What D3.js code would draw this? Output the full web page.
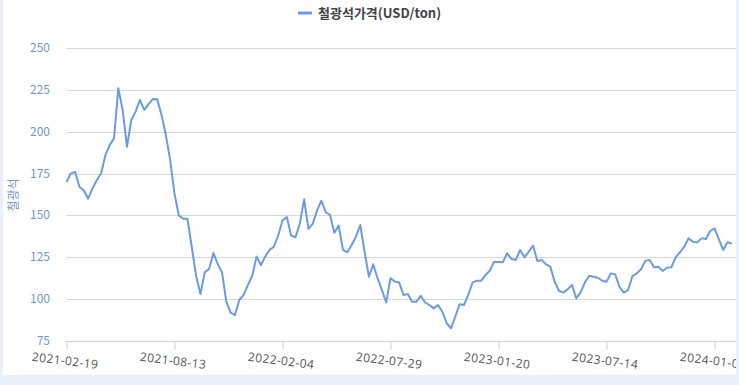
<!DOCTYPE html>
<html>
<head>
<meta charset="utf-8">
<script src="https://cdn.jsdelivr.net/npm/d3@7"></script>
<style>
  body { margin: 0; background: #e9f0f9; }
  #wrap { position: absolute; left: 3px; top: 0; width: 733px; height: 375px; background: #fff; overflow: hidden; }
  svg { font-family: "Noto Sans CJK KR", "Noto Sans", sans-serif; }
</style>
</head>
<body>
<div id="wrap"><svg id="chart" width="760" height="375"></svg></div>
<script>
var startDate = '2021-02-19';
var seriesName = '철광석가격(USD/ton)';
var axisTitle = '철광석';
var yTicks = [75, 100, 125, 150, 175, 200, 225, 250];
var prices = [
    170, 175, 176, 167, 165, 160, 166, 171, 175, 186,
    192, 196, 226, 213, 191, 207, 212, 219, 213, 216.5,
    219.6, 219.4, 210, 198, 183, 163, 150, 148, 148, 131,
    114, 103, 116, 118, 127.5, 121, 116, 98.5, 92, 90.5,
    99.5, 102.5, 108.5, 114, 125.4, 120.4, 125.4, 129.4, 131.3, 138,
    147, 149, 138, 137, 145, 159.6, 142, 145, 153, 158.8,
    151.9, 150.3, 139.7, 143.9, 129.4, 128, 132.3, 137.3, 144.3, 128.3,
    113.4, 120.8, 112.5, 105.5, 98, 112.5, 110.5, 110, 102.5, 103,
    98.5, 98.5, 102, 98, 96.5, 94.5, 96.5, 92.5, 85.6, 82.6,
    89.5, 97, 96.5, 102.5, 110, 111, 111, 114.4, 117, 122.4,
    122.2, 122, 127.4, 124, 123.4, 129.4, 125, 128.3, 132, 122.8,
    123.4, 120.8, 119.4, 110.4, 105, 103.9, 105.9, 108.5, 100.5, 104,
    110, 114, 113.4, 112.8, 111, 110.4, 115.4, 114.8, 107.4, 103.9,
    105.5, 113.8, 115.4, 117.8, 123, 123.4, 119, 119.4, 116.8, 118.8,
    119, 125, 128, 131.3, 136.3, 134.3, 133.9, 136.3, 135.9, 140.7,
    142.3, 135.9, 129.4, 134, 133.2
];

var parse = d3.timeParse('%Y-%m-%d');
var fmt = d3.timeFormat('%Y-%m-%d');
var t0 = parse(startDate);
var data = prices.map(function (v, i) { return {date: d3.timeWeek.offset(t0, i), value: v}; });

var chart = d3.select('#chart');
var left = 63.5, right = left + 4.32 * (prices.length - 1);

var xs = d3.scaleTime().domain([data[0].date, data[data.length - 1].date]).range([left, right]);
var ys = d3.scaleLinear().domain([75, 250]).range([341, 48]);

// grid
chart.append('g').selectAll('line').data(yTicks.slice(1)).enter().append('line')
    .attr('x1', left).attr('x2', 760)
    .attr('y1', function (d) { return Math.round(ys(d)) + 0.5; })
    .attr('y2', function (d) { return Math.round(ys(d)) + 0.5; })
    .attr('stroke', '#d8d8d8');

// y labels
chart.append('g').selectAll('text').data(yTicks).enter().append('text')
    .attr('x', 47).attr('y', function (d) { return ys(d) + 4; })
    .attr('text-anchor', 'end')
    .attr('fill', '#6f95d4').attr('font-size', 12)
    .text(function (d) { return d; });

chart.append('text')
    .attr('transform', 'translate(15,195) rotate(-90)')
    .attr('text-anchor', 'middle')
    .attr('fill', '#6f95d4').attr('font-size', 12)
    .text(axisTitle);

// x axis
var xTickDates = data.filter(function (d, i) { return i % 25 === 0; }).map(function (d) { return d.date; });
var xAxis = chart.append('g').attr('transform', 'translate(0,341.5)')
    .call(d3.axisBottom(xs).tickValues(xTickDates).tickFormat(fmt).tickSize(8).tickSizeOuter(0));
xAxis.select('.domain').attr('stroke', '#c8d2e0').attr('d', 'M' + left + ',0H760');
xAxis.selectAll('.tick line').attr('stroke', '#c8d2e0');
xAxis.selectAll('.tick text')
    .attr('font-family', '"Open Sans", "Noto Sans", sans-serif')
    .attr('font-size', 12).attr('fill', '#555')
    .attr('letter-spacing', 0.4)
    .attr('text-anchor', 'middle')
    .attr('transform', 'translate(0,4) rotate(7)');

// line
chart.append('path').datum(data)
    .attr('fill', 'none')
    .attr('stroke', '#6b9be0')
    .attr('stroke-width', 2)
    .attr('stroke-linejoin', 'round')
    .attr('d', d3.line().x(function (d) { return xs(d.date); }).y(function (d) { return ys(d.value); }));

// legend
var lg = chart.append('g').attr('transform', 'translate(295,13)');
lg.append('line').attr('x1', 0).attr('x2', 14).attr('y1', 0).attr('y2', 0)
    .attr('stroke', '#6b9be0').attr('stroke-width', 3);
lg.append('text').attr('x', 20).attr('y', 4.5)
    .attr('font-size', 13).attr('font-weight', 'bold').attr('fill', '#444')
    .text(seriesName);
</script>
</body>
</html>
